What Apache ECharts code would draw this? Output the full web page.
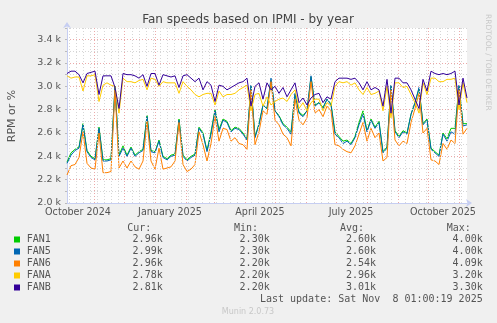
<!DOCTYPE html>
<html><head><meta charset="utf-8">
<script src="https://cdn.jsdelivr.net/npm/echarts@6/dist/echarts.min.js"></script>
<style>html,body{margin:0;padding:0;background:#F0F0F0}#c{width:497px;height:323px}</style>
</head><body><div id="c"></div><script>
// sample positions: days since 2024-10-05
const days = [0,4,8,12,16,20,24,28,32,36,40,44,48,52,56,60,64,68,72,76,
  80,84,88,92,96,100,104,108,112,116,120,124,128,132,136,140,144,148,152,156,
  160,164,168,172,176,180,184,188,192,196,200,204,208,212,216,220,224,228,232,236,
  240,244,248,252,256,260,264,268,272,276,280,284,288,292,296,300,304,308,312,316,
  320,324,328,332,336,340,344,348,352,356,360,364,368,372,376,380,384,388,392,396,400];
const startDate = [2024, 9, 5];
const seriesNames = ['FAN1','FAN5','FAN6','FANA','FANB'];
const seriesColors = ['#00CC00','#0066B3','#FF8000','#FFCC00','#330099'];
const fan1 = [2350,2430,2460,2480,2680,2450,2400,2380,2650,2370,2370,2380,3000,2410,2490,2410,2480,2410,2440,2460,
  2750,2450,2440,2540,2400,2380,2410,2420,2720,2410,2370,2400,2420,2650,2600,2450,2610,2800,2630,2720,
  2700,2620,2650,2640,2600,2550,3000,2570,2680,2840,2810,3050,2790,2750,2680,2650,2610,2930,2780,2750,
  2790,3080,2840,2860,2820,2890,2850,2610,2570,2530,2540,2510,2570,2690,2790,2620,2720,2650,2700,2440,
  2480,3000,2620,2570,2620,2600,2760,2860,2980,2680,2720,2470,2440,2410,2600,2550,2640,2640,3000,2680,2680];
const fan5 = [2340,2410,2450,2470,2670,2440,2390,2370,2640,2360,2360,2370,3000,2400,2470,2400,2470,2400,2430,2450,
  2740,2440,2430,2530,2390,2370,2400,2410,2710,2400,2360,2390,2410,2640,2590,2440,2590,2790,2610,2710,
  2690,2610,2640,2630,2590,2540,3010,2560,2670,2840,2810,3070,2790,2740,2670,2640,2590,2940,2770,2740,
  2790,3090,2830,2860,2810,2890,2840,2590,2560,2510,2530,2500,2560,2670,2760,2610,2710,2640,2690,2430,
  2470,3010,2610,2560,2610,2590,2760,2860,2990,2670,2710,2460,2430,2400,2590,2530,2610,2590,3010,2660,2670];
const fan6 = [2240,2320,2330,2390,2610,2340,2300,2290,2600,2260,2260,2270,2970,2300,2360,2300,2360,2310,2290,2360,
  2700,2360,2290,2470,2290,2300,2310,2360,2690,2330,2270,2290,2330,2610,2500,2360,2510,2740,2530,2640,
  2630,2530,2560,2510,2500,2460,2970,2500,2610,2790,2760,3040,2710,2670,2590,2560,2490,2890,2710,2670,
  2730,3040,2770,2800,2740,2830,2790,2500,2490,2460,2440,2430,2490,2590,2690,2530,2640,2560,2600,2360,
  2390,2970,2540,2490,2530,2510,2690,2810,2940,2600,2640,2370,2360,2330,2510,2460,2540,2510,2970,2590,2640];
const fanA = [3090,3070,3080,3080,2960,3090,3090,3100,2870,3010,3030,3010,3000,2770,3070,3040,3040,3030,3050,3060,
  2970,3070,3060,3000,3040,3030,3030,3030,2940,3040,3000,2970,2930,2910,2930,2940,2940,2840,2960,2910,
  2930,2930,2940,2970,2990,3010,2790,2930,2940,2830,2910,2840,2870,2890,2900,2870,2930,2970,2810,2860,
  2790,2860,2890,2890,2790,2860,2830,3000,3040,3030,3040,3010,3030,2970,2930,2990,2930,2940,2960,2790,
  3000,2730,3030,3030,2990,3000,2930,2860,2770,3030,2930,3070,3070,3040,3040,3060,3060,3070,2800,3030,2860];
const fanB = [3110,3130,3130,3100,3030,3110,3120,3130,2930,3090,3090,3090,2990,2810,3110,3100,3100,3090,3070,3100,
  3000,3110,3110,3010,3100,3090,3080,3090,2990,3090,3100,3070,3040,3070,2970,3040,3010,2870,3010,3000,
  2970,2990,3010,3030,3040,3070,2830,3000,3030,2890,3030,2970,3000,2940,2990,2910,2970,3030,2860,2900,
  2840,2900,2930,2940,2860,2910,2890,3040,3070,3070,3070,3060,3070,3030,2970,3040,2970,2990,2970,2830,
  3060,2770,3070,3070,3030,3030,2970,2890,2810,3060,2960,3130,3110,3100,3110,3100,3110,3130,2840,3070,2900];
const seriesValues = [fan1, fan5, fan6, fanA, fanB];
const statCur = ['2.96k','2.99k','2.96k','2.78k','2.81k'];
const statMin = ['2.30k','2.30k','2.20k','2.20k','2.20k'];
const statAvg = ['2.60k','2.60k','2.54k','2.96k','3.01k'];
const statMax = ['4.00k','4.00k','4.09k','3.20k','3.30k'];
const xTickLabels = ['October 2024','January 2025','April 2025','July 2025','October 2025'];
const xTickDates = [[2024,9,16],[2025,0,16],[2025,3,16],[2025,6,16],[2025,9,16]];
const yMin = 2000, yMax = 3500, yStep = 100;

const DAY = 86400000;
const t0 = Date.UTC(startDate[0], startDate[1], startDate[2]);
const toDay = (y,m,d) => (Date.UTC(y,m,d) - t0) / DAY;
const labelDays = xTickDates.map(a => toDay(a[0],a[1],a[2]));
const monthDays = [];
for (let k = 1; k <= 13; k++) { const dd = toDay(2024, 9 + k, 1); if (dd > 0 && dd < 400) monthDays.push(dd); }
const weekDays = [];
for (let dd = toDay(2024, 9, 7); dd < 400; dd += 7) { if (!monthDays.some(m => Math.abs(m - dd) < 1.5)) weekDays.push(dd); }

const gridLines = [];
weekDays.forEach(d => gridLines.push({xAxis: d, lineStyle: {color: '#D6D6D6', type: [1,2], width: 1}}));
monthDays.forEach(d => gridLines.push({xAxis: d, lineStyle: {color: '#EBA9A9', type: [1,2], width: 1}}));

const series = [{
  type: 'line', data: [], silent: true, z: 1,
  markLine: {silent: true, symbol: 'none', label: {show: false}, animation: false, data: gridLines}
}];
seriesNames.forEach((n, i) => series.push({
  name: n, type: 'line', symbol: 'none', showSymbol: false, z: 2 + i,
  data: days.map((d, j) => [d, seriesValues[i][j]]),
  lineStyle: {width: 1, color: seriesColors[i]}, itemStyle: {color: seriesColors[i]},
  animation: false
}));

const txt = '#555';
const mono = '10px "DejaVu Sans Mono"';
const graphic = [
  {type: 'text', x: 248, y: 20, style: {text: 'Fan speeds based on IPMI - by year', font: '12px "DejaVu Sans"', fill: '#444', align: 'center', verticalAlign: 'middle'}},
  {type: 'text', x: 12, y: 116, rotation: Math.PI / 2, style: {text: 'RPM or %', font: '11px "DejaVu Sans"', fill: txt, align: 'center', verticalAlign: 'middle'}},
  {type: 'text', x: 488, y: 14, rotation: -Math.PI / 2, style: {text: 'RRDTOOL / TOBI OETIKER', font: '7.5px "DejaVu Sans"', fill: '#C8C8C8', align: 'left', verticalAlign: 'middle'}},
  {type: 'text', x: 127.3, y: 228, style: {text: 'Cur:', font: mono, fill: txt, verticalAlign: 'middle'}},
  {type: 'text', x: 234, y: 228, style: {text: 'Min:', font: mono, fill: txt, verticalAlign: 'middle'}},
  {type: 'text', x: 340, y: 228, style: {text: 'Avg:', font: mono, fill: txt, verticalAlign: 'middle'}},
  {type: 'text', x: 446.7, y: 228, style: {text: 'Max:', font: mono, fill: txt, verticalAlign: 'middle'}},
  {type: 'text', x: 482.7, y: 299.5, style: {text: 'Last update: Sat Nov  8 01:00:19 2025', font: mono, fill: txt, align: 'right', verticalAlign: 'middle'}},
  {type: 'text', x: 248, y: 312, style: {text: 'Munin 2.0.73', font: '8px "DejaVu Sans"', fill: '#C8C8C8', align: 'center', verticalAlign: 'middle'}}
];
seriesNames.forEach((n, i) => {
  const y = 239.5 + i * 12;
  graphic.push({type: 'rect', shape: {x: 14, y: y - 3, width: 6, height: 6}, style: {fill: seriesColors[i]}});
  graphic.push({type: 'text', x: 26.7, y: y, style: {text: n, font: mono, fill: txt, verticalAlign: 'middle'}});
  graphic.push({type: 'text', x: 162.7, y: y, style: {text: statCur[i], font: mono, fill: txt, align: 'right', verticalAlign: 'middle'}});
  graphic.push({type: 'text', x: 269.7, y: y, style: {text: statMin[i], font: mono, fill: txt, align: 'right', verticalAlign: 'middle'}});
  graphic.push({type: 'text', x: 376, y: y, style: {text: statAvg[i], font: mono, fill: txt, align: 'right', verticalAlign: 'middle'}});
  graphic.push({type: 'text', x: 482.7, y: y, style: {text: statMax[i], font: mono, fill: txt, align: 'right', verticalAlign: 'middle'}});
});

const axisCol = '#C6CEF2';
const chart = echarts.init(document.getElementById('c'), null, {renderer: 'canvas'});
chart.setOption({
  backgroundColor: '#F0F0F0',
  animation: false,
  grid: {left: 67, right: 30, top: 28, bottom: 120, show: true, backgroundColor: '#FFFFFF', borderWidth: 0},
  xAxis: {
    type: 'value', min: 0, max: 400,
    axisLine: {show: true, lineStyle: {color: axisCol, width: 1}, symbol: ['none', 'arrow'], symbolSize: [6, 6], symbolOffset: [0, 5]},
    axisTick: {show: false},
    splitLine: {show: false},
    axisLabel: {customValues: labelDays, color: txt, fontSize: 9.6, fontFamily: 'DejaVu Sans', margin: 4,
      formatter: v => { const k = labelDays.findIndex(d => Math.abs(d - v) < 0.01); return k >= 0 ? xTickLabels[k] : ''; }}
  },
  yAxis: {
    type: 'value', min: yMin, max: yMax, interval: yStep,
    axisLine: {show: true, lineStyle: {color: axisCol, width: 1}, symbol: ['none', 'arrow'], symbolSize: [6, 6], symbolOffset: [0, 6]},
    axisTick: {show: true, length: 2, lineStyle: {color: '#BBBBBB'}},
    splitLine: {show: true, lineStyle: {color: ['#EBA9A9', '#D6D6D6'], type: [1, 2], width: 1}},
    axisLabel: {color: txt, fontSize: 9.5, fontFamily: 'DejaVu Sans', margin: 6,
      formatter: v => (v % 200 === 0 ? (v / 1000).toFixed(1) + ' k' : '')}
  },
  series: series,
  graphic: graphic
});
</script></body></html>
